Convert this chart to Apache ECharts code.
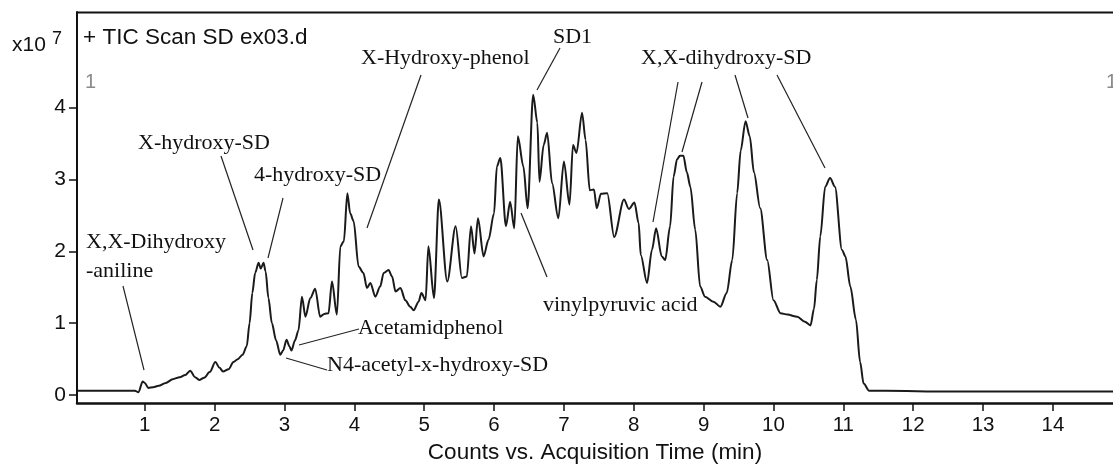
<!DOCTYPE html>
<html><head><meta charset="utf-8">
<script src="https://cdn.jsdelivr.net/npm/echarts@6.0.0/dist/echarts.min.js"></script>
<style>html,body{margin:0;padding:0;background:#fff}#c{width:1113px;height:464px}</style>
</head><body><div id="c"></div>
<script>
// Acquisition time (min)
const times = [0.03,0.5,0.86,0.91,0.97,1.0,1.05,1.12,1.2,1.3,1.4,1.5,1.58,1.65,1.72,1.78,1.85,1.93,2.01,2.07,2.12,2.2,2.27,2.33,2.4,2.46,2.5,2.54,2.58,2.63,2.66,2.7,2.73,2.77,2.82,2.88,2.94,2.98,3.03,3.07,3.1,3.15,3.2,3.25,3.3,3.37,3.44,3.51,3.57,3.63,3.68,3.75,3.8,3.85,3.9,3.94,3.99,4.06,4.13,4.18,4.23,4.3,4.37,4.42,4.49,4.54,4.59,4.66,4.73,4.8,4.85,4.92,4.96,5.02,5.06,5.14,5.21,5.33,5.45,5.54,5.61,5.67,5.72,5.77,5.85,5.92,6.0,6.04,6.09,6.17,6.23,6.29,6.34,6.42,6.48,6.56,6.62,6.65,6.71,6.76,6.83,6.92,7.0,7.08,7.13,7.18,7.26,7.31,7.37,7.43,7.47,7.53,7.62,7.72,7.86,7.93,8.01,8.07,8.1,8.19,8.26,8.32,8.4,8.45,8.52,8.57,8.62,8.66,8.71,8.76,8.81,8.88,8.95,9.02,9.14,9.24,9.33,9.41,9.48,9.53,9.6,9.66,9.72,9.81,9.91,10.0,10.1,10.2,10.34,10.45,10.53,10.58,10.62,10.67,10.74,10.81,10.88,10.98,11.03,11.1,11.18,11.24,11.29,11.37,11.6,12.5,14.86];
// Counts (x10^7)
const counts = [0.06,0.06,0.06,0.04,0.19,0.17,0.1,0.11,0.13,0.17,0.22,0.25,0.28,0.34,0.25,0.21,0.24,0.32,0.46,0.38,0.33,0.36,0.46,0.5,0.56,0.68,1.0,1.42,1.7,1.84,1.76,1.84,1.72,1.35,1.0,0.76,0.56,0.62,0.77,0.68,0.62,0.76,0.9,1.37,1.09,1.35,1.48,1.09,1.13,1.14,1.58,1.12,2.07,2.14,2.81,2.53,2.42,1.79,1.7,1.49,1.56,1.37,1.51,1.7,1.74,1.65,1.44,1.49,1.32,1.23,1.18,1.3,1.42,1.32,2.07,1.35,2.72,1.58,2.35,1.63,1.65,2.35,1.97,2.46,1.93,2.16,2.53,3.18,3.3,2.35,2.69,2.32,3.6,3.18,2.6,4.18,3.79,2.97,3.48,3.65,2.95,2.46,3.25,2.65,3.48,3.37,3.93,3.55,2.85,2.86,2.6,2.8,2.81,2.2,2.72,2.59,2.68,2.39,1.95,1.56,2.02,2.32,1.93,1.88,2.35,3.04,3.28,3.33,3.33,3.1,2.9,2.3,1.51,1.37,1.3,1.23,1.42,1.88,2.81,3.4,3.81,3.6,3.1,2.6,1.88,1.32,1.14,1.12,1.09,1.02,0.97,1.2,1.6,2.21,2.9,3.02,2.9,2.02,1.93,1.51,1.05,0.46,0.16,0.06,0.06,0.05,0.05];
const xTickValues = [1,2,3,4,5,6,7,8,9,10,11,12,13,14];
const yTickValues = [0,1,2,3,4];
const titleText = '+ TIC Scan SD ex03.d';
const xAxisTitle = 'Counts vs. Acquisition Time (min)';
const annotationTexts = ['X,X-Dihydroxy','-aniline','X-hydroxy-SD','4-hydroxy-SD','X-Hydroxy-phenol','SD1','X,X-dihydroxy-SD','Acetamidphenol','N4-acetyl-x-hydroxy-SD','vinylpyruvic acid'];

// layout of annotation labels (pixel positions: left, vertical centre)
const annotationPos = [[86,242],[86,271],[138,143],[254,175],[361,58],[553,37],[641,58],[358,328],[327,365],[543,305]];
// leader lines (pixel)
const leaderLines = [[123,286,144,370],[221,156,253,250],[283,198,268,258],[421,75,367,228],[560,48,537,90],[678,82,653,222],[702,82,682,152],[735,75,748,118],[777,75,825,168],[299,345,359,329],[286,358,327,370],[521,213,547,277]];

const chart = echarts.init(document.getElementById('c'), null, {renderer:'canvas'});
const sans = 'Liberation Sans';
const serif = 'Liberation Serif';
const graphics = [];
graphics.push({type:'line', silent:true, shape:{x1:77,y1:12.5,x2:1113,y2:12.5}, style:{stroke:'#111', lineWidth:2}});
graphics.push({type:'text', silent:true, x:83, y:38, style:{text:titleText, fontSize:22.5, fontFamily:sans, fill:'#111', verticalAlign:'middle'}});
graphics.push({type:'text', silent:true, x:12, y:45, style:{text:'x10', fontSize:21, fontFamily:sans, fill:'#111', verticalAlign:'middle'}});
graphics.push({type:'text', silent:true, x:52, y:39, style:{text:'7', fontSize:18, fontFamily:sans, fill:'#111', verticalAlign:'middle'}});
graphics.push({type:'text', silent:true, x:85, y:82, style:{text:'1', fontSize:20, fontFamily:sans, fill:'#8a8a8a', verticalAlign:'middle'}});
graphics.push({type:'text', silent:true, x:1106, y:82, style:{text:'1', fontSize:20, fontFamily:sans, fill:'#8a8a8a', verticalAlign:'middle'}});
annotationTexts.forEach((t,i)=>{
  graphics.push({type:'text', silent:true, x:annotationPos[i][0], y:annotationPos[i][1], style:{text:t, fontSize:22, fontFamily:serif, fill:'#111', verticalAlign:'middle'}});
});
leaderLines.forEach(l=>{
  graphics.push({type:'line', silent:true, shape:{x1:l[0],y1:l[1],x2:l[2],y2:l[3]}, style:{stroke:'#222', lineWidth:1.2}});
});

const option = {
  animation:false,
  backgroundColor:'#fff',
  grid:{left:77, right:0, top:12, bottom:61, containLabel:false, outerBoundsMode:'none'},
  xAxis:{
    type:'value', min:0.03, max:14.86,
    name:xAxisTitle, nameLocation:'middle', nameGap:38,
    nameTextStyle:{fontSize:22.5, fontFamily:sans, color:'#111'},
    axisLine:{show:true, onZero:false, lineStyle:{color:'#111', width:2.5}},
    axisTick:{show:true, length:8, customValues:xTickValues, lineStyle:{color:'#111', width:1.5}},
    axisLabel:{show:true, customValues:xTickValues, fontSize:20.5, fontFamily:sans, color:'#111', margin:12},
    splitLine:{show:false}
  },
  yAxis:{
    type:'value', min:-0.11, max:5.33,
    axisLine:{show:true, onZero:false, lineStyle:{color:'#111', width:2}},
    axisTick:{show:true, length:8, customValues:yTickValues, lineStyle:{color:'#111', width:1.5}},
    axisLabel:{show:true, customValues:yTickValues, fontSize:21, fontFamily:sans, color:'#111', margin:11},
    splitLine:{show:false}
  },
  series:[{
    type:'line', data:times.map((t,i)=>[t,counts[i]]),
    showSymbol:false, smooth:0.3, smoothMonotone:'x',
    lineStyle:{color:'#1a1a1a', width:2}, clip:true
  }],
  graphic:graphics
};
chart.setOption(option);
</script></body></html>
